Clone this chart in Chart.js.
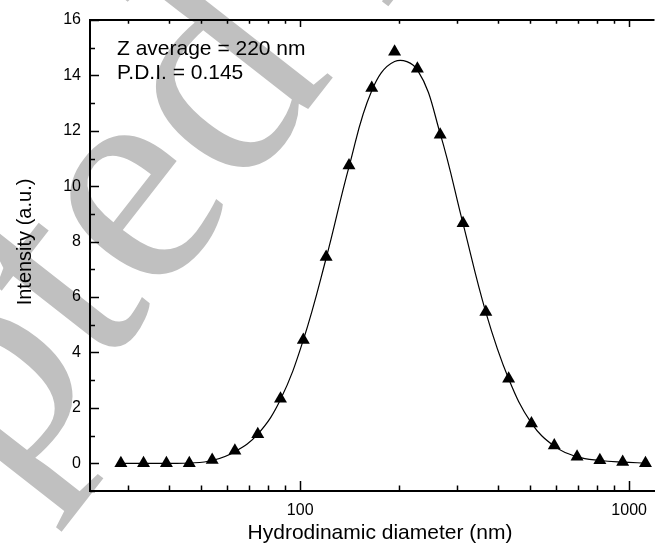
<!doctype html>
<html lang="en">
<head>
<meta charset="utf-8">
<title>DLS size distribution</title>
<script src="https://cdn.jsdelivr.net/npm/chart.js"></script>
<style>
  html, body { margin: 0; padding: 0; background: #fff; }
  #wrap { width: 662px; height: 554px; position: relative; }
</style>
</head>
<body>
<div id="wrap"><canvas id="dlsChart"></canvas></div>
<script>
// data
const sizes = [28.5, 33.4, 39.2, 46.0, 54.0, 63.3, 74.3, 87.1, 102.2, 119.9, 140.7, 165.0,
               193.6, 227.1, 266.4, 312.6, 366.7, 430.1, 504.6, 592.0, 694.4, 814.6, 955.6, 1121];
const intensity = [0, 0, 0, 0, 0.12, 0.45, 1.05, 2.33, 4.45, 7.45, 10.75, 13.55,
                   14.85, 14.24, 11.86, 8.66, 5.46, 3.05, 1.44, 0.64, 0.24, 0.11, 0.05, 0];
// fitted curve, read at the same diameters
const fitCurve = [0, 0, 0, 0.01, 0.1, 0.42, 1.05, 2.3, 4.45, 7.4, 10.7, 13.45,
                  14.5, 14.2, 11.9, 8.65, 5.45, 3.05, 1.45, 0.62, 0.24, 0.1, 0.04, 0.01];

const xTicks = [30, 40, 50, 60, 70, 80, 90, 100, 200, 300, 400, 500, 600, 700, 800, 900, 1000];
const xLabels = [100, 1000];
const yTicks = [0, 2, 4, 6, 8, 10, 12, 14, 16];
const yMinor = [-1, 1, 3, 5, 7, 9, 11, 13, 15];
const notes = ['Z average = 220 nm', 'P.D.I. = 0.145'];
const xTitle = 'Hydrodinamic diameter (nm)';
const yTitle = 'Intensity (a.u.)';
const watermark = 'Accepted Manuscript';

const FONT = '"Liberation Sans", Arial, sans-serif';

// big grey watermark behind everything
const watermarkPlugin = {
  id: 'watermark',
  beforeDraw(chart) {
    const ctx = chart.ctx;
    ctx.save();
    ctx.fillStyle = '#fff';
    ctx.fillRect(0, 0, chart.width, chart.height);
    const ang = -52 * Math.PI / 180;
    const em = 310;
    ctx.font = em + 'px "Liberation Serif", serif';
    const pre = ctx.measureText('Accept').width;
    // the second "e" starts on the baseline at about (155, 305)
    const ox = 155 - Math.cos(ang) * pre;
    const oy = 305 - Math.sin(ang) * pre;
    ctx.translate(ox, oy);
    ctx.rotate(ang);
    ctx.fillStyle = '#c0c0c0';
    ctx.textBaseline = 'alphabetic';
    ctx.fillText(watermark, 0, 0);
    ctx.restore();
  }
};

// inward ticks, top line, titles, notes
const framePlugin = {
  id: 'frame',
  afterDraw(chart) {
    const ctx = chart.ctx;
    const x = chart.scales.x, y = chart.scales.y;
    const a = chart.chartArea;
    ctx.save();
    ctx.strokeStyle = '#000';
    ctx.lineWidth = 2;
    ctx.beginPath();
    ctx.moveTo(a.left - 1, a.top);
    ctx.lineTo(a.right, a.top);
    ctx.stroke();

    ctx.lineWidth = 1.5;
    ctx.beginPath();
    xTicks.forEach(v => {
      const px = Math.round(x.getPixelForValue(v)) + 0.5;
      const len = xLabels.includes(v) ? 10 : 5.5;
      ctx.moveTo(px, a.bottom);
      ctx.lineTo(px, a.bottom - len);
      ctx.moveTo(px, a.top);
      ctx.lineTo(px, a.top + len * 0.7);
    });
    yTicks.forEach(v => {
      const py = Math.round(y.getPixelForValue(v)) + 0.5;
      ctx.moveTo(a.left, py);
      ctx.lineTo(a.left + 9, py);
    });
    yMinor.forEach(v => {
      const py = Math.round(y.getPixelForValue(v)) + 0.5;
      ctx.moveTo(a.left, py);
      ctx.lineTo(a.left + 5, py);
    });
    ctx.stroke();

    ctx.fillStyle = '#000';
    ctx.font = '21px ' + FONT;
    ctx.textAlign = 'left';
    ctx.textBaseline = 'alphabetic';
    ctx.fillText(notes[0], 117, 55);
    ctx.fillText(notes[1], 117, 79);

    ctx.textAlign = 'center';
    ctx.fillText(xTitle, 380, 539);

    ctx.translate(31, 242);
    ctx.rotate(-Math.PI / 2);
    ctx.font = '20px ' + FONT;
    ctx.fillText(yTitle, 0, 0);
    ctx.restore();
  }
};

new Chart(document.getElementById('dlsChart'), {
  type: 'scatter',
  data: {
    datasets: [
      {
        label: 'Fit',
        data: sizes.map((s, i) => ({ x: s, y: fitCurve[i] })),
        showLine: true,
        borderColor: '#000',
        borderWidth: 1.2,
        pointRadius: 0,
        tension: 0.4,
        order: 2
      },
      {
        label: 'Intensity',
        data: sizes.map((s, i) => ({ x: s, y: intensity[i] })),
        showLine: false,
        pointStyle: 'triangle',
        pointRadius: 7.5,
        backgroundColor: '#000',
        borderColor: '#000',
        borderWidth: 0,
        order: 1
      }
    ]
  },
  options: {
    responsive: true,
    maintainAspectRatio: false,
    animation: false,
    layout: { padding: { top: 20, right: 0, left: 0, bottom: 0 } },
    plugins: { legend: { display: false }, tooltip: { enabled: false } },
    scales: {
      x: {
        type: 'logarithmic',
        min: 22.96,
        max: 1194,
        afterBuildTicks: s => { s.ticks = xTicks.map(v => ({ value: v })); },
        afterFit: s => { s.height = 63; },
        grid: { display: false, drawTicks: false },
        border: { display: true, color: '#000', width: 2 },
        ticks: {
          autoSkip: false,
          maxRotation: 0,
          padding: 10,
          color: '#000',
          font: { family: FONT, size: 16 },
          callback: v => xLabels.includes(v) ? String(v) : ''
        }
      },
      y: {
        min: -1,
        max: 16,
        afterBuildTicks: s => { s.ticks = yTicks.map(v => ({ value: v })); },
        afterFit: s => { s.width = 90; },
        grid: { display: false, drawTicks: false },
        border: { display: true, color: '#000', width: 2 },
        ticks: {
          padding: 9,
          color: '#000',
          font: { family: FONT, size: 16 }
        }
      }
    }
  },
  plugins: [watermarkPlugin, framePlugin]
});
</script>
</body>
</html>
